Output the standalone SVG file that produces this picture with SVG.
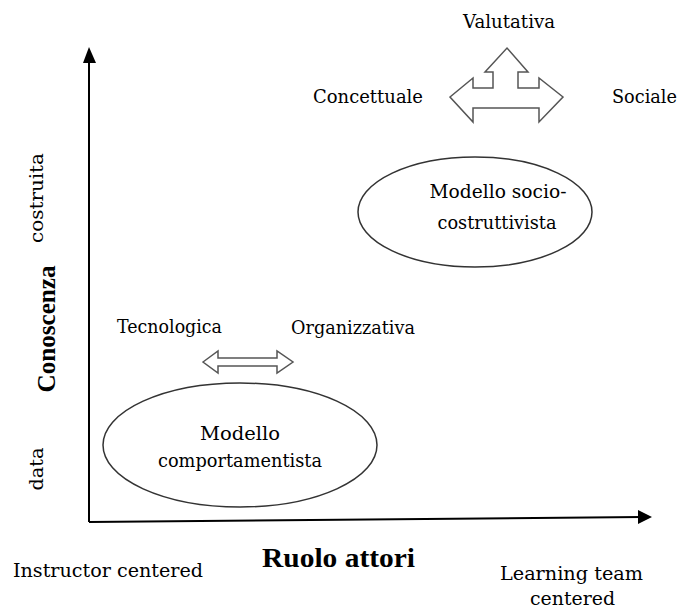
<svg xmlns="http://www.w3.org/2000/svg" width="681" height="612" viewBox="0 0 681 612">
<defs>
<style>
.t{font-family:"DejaVu Serif","Liberation Serif",serif;font-size:19px;fill:#000}
.b{font-family:"Liberation Serif","DejaVu Serif",serif;font-weight:bold;fill:#000}
.ax{stroke:#000;stroke-width:2;fill:none}
.el{stroke:#333;stroke-width:1.5;fill:#fff}
.ar{stroke:#555;stroke-width:1.5;fill:#fff;stroke-linejoin:miter}
</style>
</defs>
<rect width="681" height="612" fill="#fff"/>
<g id="connectors">
<line class="ax" x1="89" y1="522" x2="89" y2="56"/>
<path d="M83,63 L89,47 L96,63 z" fill="#000"/>
<line class="ax" x1="89" y1="522" x2="642" y2="517"/>
<path d="M638,510 L652,517 L638,524 z" fill="#000"/>
</g>
<g id="axis-labels">
<text class="t" transform="translate(43,198) rotate(-90)" text-anchor="middle" textLength="90" lengthAdjust="spacingAndGlyphs">costruita</text>
<text class="b" font-size="26" transform="translate(55,329) rotate(-90)" text-anchor="middle" textLength="127" lengthAdjust="spacingAndGlyphs">Conoscenza</text>
<text class="t" transform="translate(43,469) rotate(-90)" text-anchor="middle" textLength="43" lengthAdjust="spacingAndGlyphs">data</text>
<text class="t" x="13" y="577" textLength="190" lengthAdjust="spacingAndGlyphs">Instructor centered</text>
<text class="b" font-size="28" x="262" y="567" textLength="153" lengthAdjust="spacingAndGlyphs">Ruolo attori</text>
<text class="t" x="500" y="580" textLength="143" lengthAdjust="spacingAndGlyphs">Learning team</text>
<text class="t" x="530" y="605" textLength="85" lengthAdjust="spacingAndGlyphs">centered</text>
</g>
<g id="node-socio">
<ellipse class="el" cx="475" cy="212" rx="117" ry="55"/>
<text class="t" x="498" y="198" text-anchor="middle" textLength="137" lengthAdjust="spacingAndGlyphs">Modello socio-</text>
<text class="t" x="497" y="229" text-anchor="middle" textLength="119" lengthAdjust="spacingAndGlyphs">costruttivista</text>
</g>
<g id="node-comport">
<ellipse class="el" cx="240" cy="445" rx="137" ry="62"/>
<text class="t" x="240" y="440" text-anchor="middle" textLength="80" lengthAdjust="spacingAndGlyphs">Modello</text>
<text class="t" x="240" y="467" text-anchor="middle" textLength="164" lengthAdjust="spacingAndGlyphs">comportamentista</text>
</g>
<g id="node-triple">
<path class="ar" d="M450,97 L473,78 L473,88 L493,88 L493,72 L485,72 L507,48 L528,72 L518,72 L518,88 L539,88 L539,78 L563,97 L539,122 L539,108 L473,108 L473,122 z"/>
<text class="t" x="463" y="28" textLength="92" lengthAdjust="spacingAndGlyphs">Valutativa</text>
<text class="t" x="313" y="103" textLength="110" lengthAdjust="spacingAndGlyphs">Concettuale</text>
<text class="t" x="612" y="103" textLength="65" lengthAdjust="spacingAndGlyphs">Sociale</text>
</g>
<g id="node-double">
<path class="ar" d="M203,362 L218,351 L218,358 L277,358 L277,351 L293,362 L277,373 L277,366 L218,366 L218,373 z"/>
<text class="t" x="117" y="333" textLength="105" lengthAdjust="spacingAndGlyphs">Tecnologica</text>
<text class="t" x="291" y="334" textLength="124" lengthAdjust="spacingAndGlyphs">Organizzativa</text>
</g>
</svg>
